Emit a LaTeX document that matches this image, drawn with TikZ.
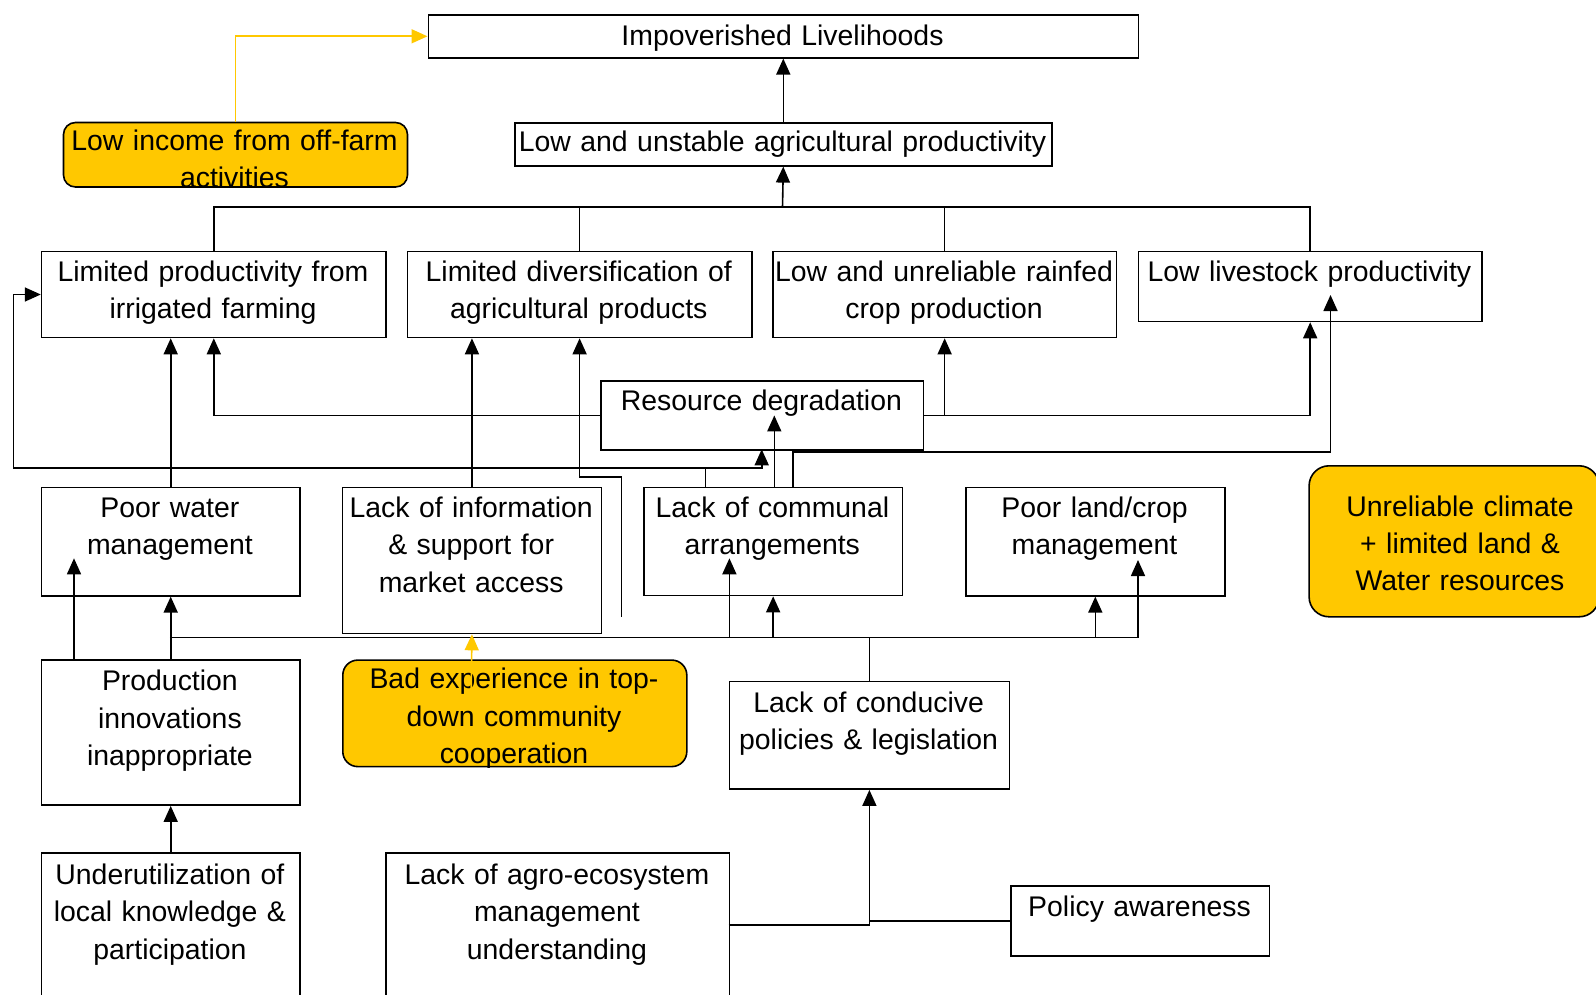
\documentclass[tikz,border=0pt]{standalone}
\usepackage{fontspec}
\setmainfont{Liberation Sans}
\usetikzlibrary{arrows.meta,calc}
\definecolor{gold}{RGB}{255,200,0}
\newcommand\tf{\fontsize{28.4pt}{37.6pt}\selectfont}
\newcommand\tfy{\fontsize{28.4pt}{37pt}\selectfont}
\begin{document}
\begin{tikzpicture}[x=1pt,y=-1pt,
 box/.style={draw=black, line width=1.6pt, fill=white, inner sep=0pt, anchor=north west},
 ybox/.style={box, fill=gold, rounded corners=12pt},
 txt/.style={inner sep=0pt, anchor=base, text width=600pt, align=center, font=\tf},
 con/.style={line width=1.6pt, draw=black},
 arr/.style={con, -{Triangle[width=14pt,length=16pt]}},
 yarr/.style={line width=1.6pt, draw=gold, -{Triangle[width=14pt,length=16pt]}}]
\useasboundingbox (0,0) rectangle (1596,995);
\fill[white] (0,0) rectangle (1596,995);

% boxes
\node[box, minimum width=710pt, minimum height=43pt] (ipl) at (427.5,14) {};
\node[box, minimum width=537pt, minimum height=43pt] (lus) at (514,122) {};
\node[ybox, minimum width=344pt, minimum height=64.5pt] (lif) at (62.7,121.7) {};
\node[box, minimum width=344.4pt, minimum height=86pt] (lpi) at (40.8,250.7) {};
\node[box, minimum width=344.4pt, minimum height=86pt] (ldap) at (406.6,250.7) {};
\node[box, minimum width=343.7pt, minimum height=86pt] (lur) at (772,250.7) {};
\node[box, minimum width=343.6pt, minimum height=70pt] (llp) at (1137.6,250.7) {};
\node[box, minimum width=322.7pt, minimum height=69.3pt] (rd) at (600,380) {};
\node[box, minimum width=258.2pt, minimum height=108.3pt] (pwm) at (40.8,486.7) {};
\node[box, minimum width=258.7pt, minimum height=146pt] (lis) at (341.8,486.7) {};
\node[box, minimum width=258.7pt, minimum height=108pt] (lca) at (643,486.7) {};
\node[box, minimum width=259pt, minimum height=108.3pt] (plc) at (965,486.7) {};
\node[ybox, rounded corners=20pt, minimum width=290pt, minimum height=151pt] (ucl) at (1308.3,465) {};
\node[box, minimum width=258.2pt, minimum height=145pt] (pii) at (40.8,659.3) {};
\node[ybox, rounded corners=15pt, minimum width=344pt, minimum height=106.5pt] (bad) at (342,659.3) {};
\node[box, minimum width=280pt, minimum height=107.6pt] (lcp) at (728.6,680.7) {};
\node[box, minimum width=258.2pt, minimum height=160pt] (ulk) at (40.8,852.3) {};
\node[box, minimum width=343.4pt, minimum height=160pt] (lae) at (385.2,852.3) {};
\node[box, minimum width=258.3pt, minimum height=70pt] (paw) at (1010.3,885) {};

% texts
\node[txt] (ipl-t) at (782.5,45.5) {Impoverished Livelihoods};
\node[txt] (lus-t) at (782.5,151.5) {Low and unstable agricultural productivity};
\node[txt, font=\tfy] (lif-t) at (234.5,151) {Low income from off-farm\\activities};
\node[txt] (lpi-t) at (213,281) {Limited productivity from\\irrigated farming};
\node[txt] (ldap-t) at (578.8,281) {Limited diversification of\\agricultural products};
\node[txt] (lur-t) at (944,281) {Low and unreliable rainfed\\crop production};
\node[txt] (llp-t) at (1309.4,281) {Low livestock productivity};
\node[txt] (rd-t) at (761.4,410) {Resource degradation};
\node[txt] (pwm-t) at (169.9,517) {Poor water\\management};
\node[txt] (lis-t) at (471.15,517) {Lack of information\\\& support for\\market access};
\node[txt] (lca-t) at (772.35,517) {Lack of communal\\arrangements};
\node[txt] (plc-t) at (1094.5,517) {Poor land/crop\\management};
\node[txt, font=\tfy] (ucl-t) at (1460,516.5) {Unreliable climate\\+ limited land \&\\Water resources};
\node[txt] (pii-t) at (169.9,690.5) {Production\\innovations\\inappropriate};
\begin{scope}
\clip (bad.south west) rectangle (bad.north east);
\node[txt] (bad-t) at (514,688.5) {Bad experience in top-\\down community\\cooperation};
\end{scope}
\node[txt] (lcp-t) at (868.6,712) {Lack of conducive\\policies \& legislation};
\node[txt] (ulk-t) at (169.9,884) {Underutilization of\\local knowledge \&\\participation};
\node[txt] (lae-t) at (556.9,884) {Lack of agro-ecosystem\\management\\understanding};
\node[txt] (paw-t) at (1139.5,916) {Policy awareness};

% helper coordinates
\coordinate (tb) at (782.5,207.3);
\coordinate (dg) at (621.5,616.7);
\coordinate (dgb) at (621.5,476.7);
\coordinate (c1) at (705.3,486.7);
\coordinate (c2) at (13.5,467.7);
\coordinate (c3) at (774.3,486.7);
\coordinate (c4) at (792.7,486.7);
\coordinate (c5) at (1330.5,451.7);
\coordinate (c6) at (1330.5,295);
\coordinate (busL) at (169.9,637.5);
\coordinate (busR) at (1138,637.5);
\coordinate (t1) at (729.4,558.3);
\coordinate (t2) at (1138,560);
\coordinate (p1) at (74,659.3);
\coordinate (t3) at (74,558.3);
\coordinate (e1) at (728.6,925);
\coordinate (ys) at (471.15,692);
\coordinate (rdt) at (761.7,449.3);

% connectors
\draw[arr] (lus.north) -- (ipl.south);
\draw[yarr] (lif.north) |- (ipl.west);
\draw[con] (lpi.north) |- (tb) -| (llp.north);
\draw[con] (ldap.north) -- (ldap.north |- tb);
\draw[con] (lur.north) -- (lur.north |- tb);
\draw[arr] (tb) -- (lus.south);
\draw[arr] (pwm.north) -- (pwm.north |- lpi.south);
\draw[arr] (rd.west) -| (lpi.south);
\draw[arr] (rd.east) -| (llp.south);
\draw[arr] (rd.east -| lur.south) -- (lur.south);
\draw[arr] (lis.north) -- (lis.north |- ldap.south);
\draw[arr] (dg) -- (dgb) -| (ldap.south);
\draw[arr] (c1) |- (c2) |- (lpi.west);
\draw[arr] (c1 |- c2) -| (rdt);
\draw[arr] (c3) -- (c3 |- rd.center);
\draw[arr] (c4) |- (c5) -- (c6);
\draw[con] (busL) -- (busR);
\draw[con] (lcp.north) -- (lcp.north |- busL);
\draw[arr] (pii.north) -- (pwm.south);
\draw[arr] (p1) -- (t3);
\draw[arr] (t1 |- busL) -- (t1);
\draw[arr] (lca.south |- busL) -- (lca.south);
\draw[arr] (plc.south |- busL) -- (plc.south);
\draw[arr] (busR) -- (t2);
\draw[arr] (ulk.north) -- (pii.south);
\draw[arr] (e1) -| (lcp.south);
\draw[con] (paw.west) -- (paw.west -| lcp.south);
\draw[yarr] (ys) -- (lis.south);
\end{tikzpicture}
\end{document}
